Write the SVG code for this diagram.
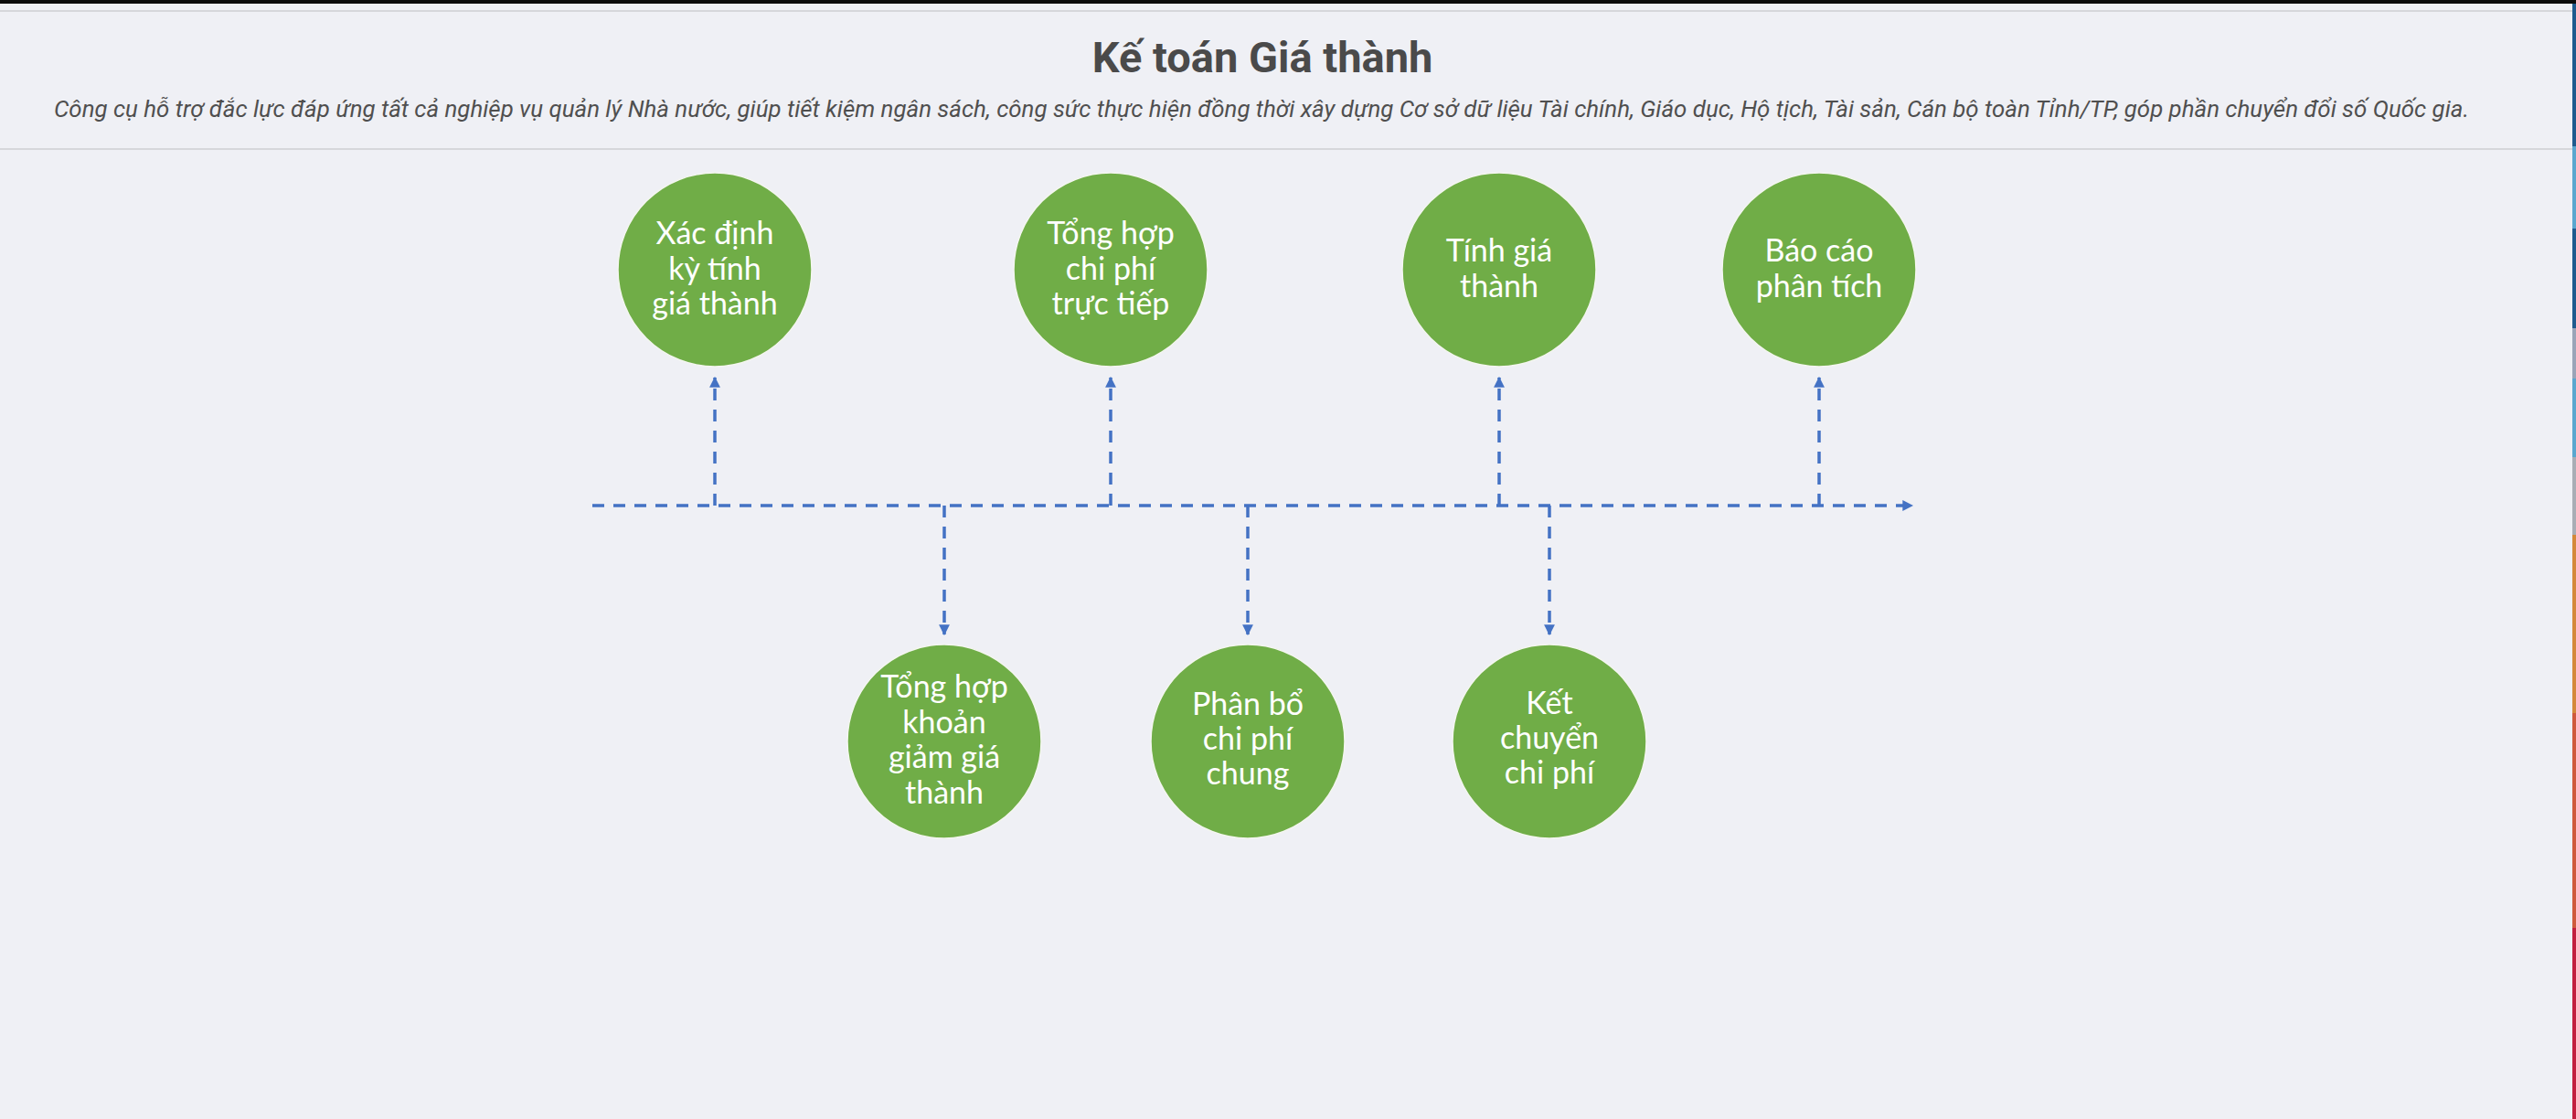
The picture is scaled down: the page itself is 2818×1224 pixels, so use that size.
<svg xmlns="http://www.w3.org/2000/svg" width="2818" height="1224" viewBox="0 0 2818 1224">
<defs>
<style>
.node circle{fill:#70ad47;stroke:#f4f6f0;stroke-width:1.5}
.node text{fill:#ffffff;font-family:Lato,"Noto Sans",sans-serif;font-size:34px;text-anchor:middle}
.conn{fill:none;stroke:#4472c4;stroke-width:3.5;stroke-dasharray:13 10}
.title{font-family:Roboto,"Liberation Sans",sans-serif;font-weight:bold;font-size:47px;fill:#4a4a4a;text-anchor:middle}
.sub{font-family:Roboto,"Liberation Sans",sans-serif;font-style:italic;font-size:26px;fill:#4f4f4f;text-anchor:middle}
</style>
<marker id="ah" viewBox="0 0 10 10" refX="9" refY="5" markerWidth="3.4" markerHeight="3.4" orient="auto-start-reverse" markerUnits="strokeWidth">
<path d="M0,0 L10,5 L0,10 z" fill="#4472c4"/>
</marker>
</defs>
<rect x="0" y="0" width="2818" height="1224" fill="#eff0f5"/>
<rect x="0" y="0" width="2818" height="4" fill="#0c0c0c"/>
<rect x="0" y="11" width="2814" height="2" fill="#d6d7db"/>
<rect x="0" y="162" width="2814" height="2" fill="#d6d7db"/>
<g id="edge-strip">
<rect x="2814" y="4" width="4" height="156" fill="#1f5b8e"/>
<rect x="2814" y="160" width="4" height="90" fill="#5aa7cf"/>
<rect x="2814" y="250" width="4" height="109" fill="#1f5b8e"/>
<rect x="2814" y="359" width="4" height="55" fill="#9aa4b8"/>
<rect x="2814" y="414" width="4" height="86" fill="#5aa7cf"/>
<rect x="2814" y="500" width="4" height="85" fill="#a9adb5"/>
<rect x="2814" y="585" width="4" height="195" fill="#d4893a"/>
<rect x="2814" y="780" width="4" height="235" fill="#cf5a3c"/>
<rect x="2814" y="1015" width="4" height="209" fill="#c21f3f"/>
</g>
<g id="header">
<text class="title" x="1381" y="79">Kế toán Giá thành</text>
<text class="sub" x="1380" y="128" textLength="2642" lengthAdjust="spacingAndGlyphs">Công cụ hỗ trợ đắc lực đáp ứng tất cả nghiệp vụ quản lý Nhà nước, giúp tiết kiệm ngân sách, công sức thực hiện đồng thời xây dựng Cơ sở dữ liệu Tài chính, Giáo dục, Hộ tịch, Tài sản, Cán bộ toàn Tỉnh/TP, góp phần chuyển đổi số Quốc gia.</text>
</g>
<g id="connectors">
<path class="conn" d="M648,553 H2092" marker-end="url(#ah)"/>
<path class="conn" d="M782,553 V413" marker-end="url(#ah)"/>
<path class="conn" d="M1215,553 V413" marker-end="url(#ah)"/>
<path class="conn" d="M1640,553 V413" marker-end="url(#ah)"/>
<path class="conn" d="M1990,553 V413" marker-end="url(#ah)"/>
<path class="conn" d="M1033,553 V694" marker-end="url(#ah)"/>
<path class="conn" d="M1365,553 V694" marker-end="url(#ah)"/>
<path class="conn" d="M1695,553 V694" marker-end="url(#ah)"/>
</g>
<g id="node-xac-dinh" class="node">
<circle cx="782" cy="295" r="106"/>
<text x="782" y="267">Xác định</text>
<text x="782" y="305.5">kỳ tính</text>
<text x="782" y="344">giá thành</text>
</g>
<g id="node-tong-hop-truc-tiep" class="node">
<circle cx="1215" cy="295" r="106"/>
<text x="1215" y="267">Tổng hợp</text>
<text x="1215" y="305.5">chi phí</text>
<text x="1215" y="344">trực tiếp</text>
</g>
<g id="node-tinh-gia-thanh" class="node">
<circle cx="1640" cy="295" r="106"/>
<text x="1640" y="286">Tính giá</text>
<text x="1640" y="324.5">thành</text>
</g>
<g id="node-bao-cao" class="node">
<circle cx="1990" cy="295" r="106"/>
<text x="1990" y="286">Báo cáo</text>
<text x="1990" y="324.5">phân tích</text>
</g>
<g id="node-giam-gia" class="node">
<circle cx="1033" cy="811" r="106"/>
<text x="1033" y="763">Tổng hợp</text>
<text x="1033" y="801.5">khoản</text>
<text x="1033" y="840">giảm giá</text>
<text x="1033" y="878.5">thành</text>
</g>
<g id="node-phan-bo" class="node">
<circle cx="1365" cy="811" r="106"/>
<text x="1365" y="782">Phân bổ</text>
<text x="1365" y="820">chi phí</text>
<text x="1365" y="858">chung</text>
</g>
<g id="node-ket-chuyen" class="node">
<circle cx="1695" cy="811" r="106"/>
<text x="1695" y="781">Kết</text>
<text x="1695" y="819">chuyển</text>
<text x="1695" y="857">chi phí</text>
</g>
</svg>
